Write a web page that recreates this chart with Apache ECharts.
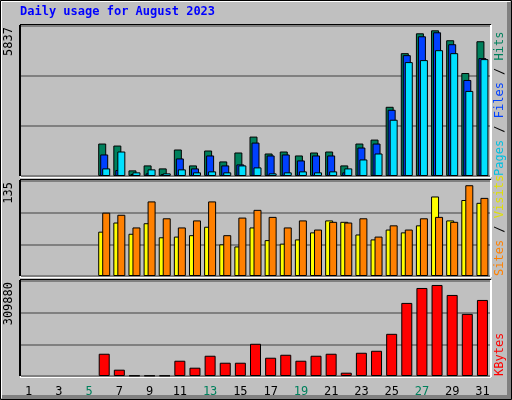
<!DOCTYPE html>
<html><head><meta charset="utf-8">
<script src="https://cdn.jsdelivr.net/npm/echarts@6/dist/echarts.min.js"></script>
<style>html,body{margin:0;padding:0;background:#c0c0c0}#c{width:512px;height:400px}</style>
</head><body><div id="c"></div>
<script>
const days = Array.from({length:31},(_,i)=>String(i+1));
const weekendDays = ['5','6','12','13','19','20','26','27'];
const hits  = [null,null,null,null,null,1263,1185,219,412,296,1031,412,992,567,915,1533,876,953,799,915,953,412,1263,1417,2693,4780,5553,5669,5283,4007,5244];
const files = [null,null,null,null,null,838,232,77,103,77,683,296,799,412,451,1301,799,838,606,799,799,142,1108,1263,2577,4703,5437,5592,5128,3737,4587];
const pages = [null,null,null,null,null,296,953,142,258,103,258,142,180,142,412,335,103,142,180,142,180,296,644,876,2190,4432,4510,4896,4780,3311,4548];
const visits = [null,null,null,null,null,63,76,60,75,55,56,58,70,45,42,69,51,46,52,62,79,77,59,52,66,62,72,113,79,108,104];
const sites  = [null,null,null,null,null,90,87,69,106,82,69,79,106,58,83,94,84,69,79,66,77,76,82,56,72,66,82,84,77,129,111];
const kbytes = [null,null,null,null,null,72600,20600,1500,1500,1500,49800,27100,66100,43300,43300,105100,59600,69300,49800,66100,72600,10800,75800,82300,137600,238400,287100,296900,264400,202600,248100];
const maxHits = 5837, maxVisits = 135, maxKB = 309880;
const maxLabels = ['5837','135','309880'];

const chart = echarts.init(document.getElementById('c'));
const L=21, R=22;
const grids=[{left:L,right:R,top:26,height:150},{left:L,right:R,top:181,height:95},{left:L,right:R,top:281,height:95}];
const mono='DejaVu Sans Mono';
function xa(i,show){return {type:'category',gridIndex:i,data:days,axisLine:{show:false},axisTick:{show:false},
  axisLabel:{show:show,fontFamily:mono,fontSize:12,margin:10,
    color:(v)=>weekendDays.includes(v)?'#00805c':'#000'}}}
function ya(i,max){return {type:'value',gridIndex:i,min:0,max:max,interval:max/3,axisLabel:{show:false},axisLine:{show:false},axisTick:{show:false},
  splitLine:{lineStyle:{color:'#808080',width:2}}}}
const bs={borderColor:'#000',borderWidth:1};
function bar(name,data,gi,color,w,gap){return {name,type:'bar',data,xAxisIndex:gi,yAxisIndex:gi,barWidth:w,barGap:gap,itemStyle:Object.assign({color},bs),silent:true,animation:false}}
function frame(top,h){return [
  {type:'line',shape:{x1:20,y1:top,x2:491,y2:top},style:{stroke:'#000',lineWidth:2}},
  {type:'line',shape:{x1:20,y1:top,x2:20,y2:top+h},style:{stroke:'#000',lineWidth:2}},
  {type:'line',shape:{x1:20,y1:top+h+1,x2:491,y2:top+h+1},style:{stroke:'#fff',lineWidth:2}},
  {type:'line',shape:{x1:491,y1:top,x2:491,y2:top+h+1},style:{stroke:'#fff',lineWidth:2}}]}
function vtext(x,y,parts){ // rotated text reading upward, starting at bottom y
  const els=[];let off=0;
  parts.forEach(p=>{els.push({type:'text',x:x,y:y-off,rotation:Math.PI/2,style:{text:p[0],fill:p[1],font:'12px '+mono,textVerticalAlign:'middle'}});off+=p[0].length*7.22;});
  return els;}
chart.setOption({
  animation:false,backgroundColor:'#c0c0c0',
  grid:grids,
  xAxis:[xa(0,false),xa(1,false),xa(2,true)],
  yAxis:[ya(0,maxHits),ya(1,maxVisits),ya(2,maxKB)],
  series:[
    bar('Hits',hits,0,'#00805c',8,'-75%'),
    bar('Files',files,0,'#0040ff',8,'-75%'),
    bar('Pages',pages,0,'#00e0ff',8,'-75%'),
    bar('Visits',visits,1,'#ffff00',8,'-50%'),
    bar('Sites',sites,1,'#ff8000',8,'-50%'),
    bar('KBytes',kbytes,2,'#ff0000',11,'0%')
  ],
  graphic:[
    {type:'rect',shape:{x:0.5,y:0.5,width:511,height:399},style:{fill:null,stroke:'#000',lineWidth:1}},
    {type:'line',shape:{x1:1,y1:1.5,x2:510,y2:1.5},style:{stroke:'#fff',lineWidth:1}},
    {type:'line',shape:{x1:1.5,y1:1,x2:1.5,y2:398},style:{stroke:'#fff',lineWidth:1}},
    {type:'line',shape:{x1:2,y1:397,x2:511,y2:397},style:{stroke:'#808080',lineWidth:4}},
    {type:'line',shape:{x1:509,y1:2,x2:509,y2:399},style:{stroke:'#808080',lineWidth:4}},
    {type:'text',x:20,y:6,style:{text:'Daily usage for August 2023',fill:'#0000ff',font:'bold 12px '+mono}},
    ...frame(25,151),...frame(180,96),...frame(280,96),
    {type:'text',x:9,y:27,rotation:Math.PI/2,style:{text:maxLabels[0],fill:'#000',font:'12px '+mono,textAlign:'right',textVerticalAlign:'middle'}},
    {type:'text',x:9,y:182,rotation:Math.PI/2,style:{text:maxLabels[1],fill:'#000',font:'12px '+mono,textAlign:'right',textVerticalAlign:'middle'}},
    {type:'text',x:9,y:282,rotation:Math.PI/2,style:{text:maxLabels[2],fill:'#000',font:'12px '+mono,textAlign:'right',textVerticalAlign:'middle'}},
    ...vtext(500,176,[['Pages','#00c0e0'],[' / ','#000'],['Files','#0040ff'],[' / ','#000'],['Hits','#00805c']]),
    ...vtext(500,276,[['Sites','#ff8000'],[' / ','#000'],['Visits','#e0e000']]),
    ...vtext(500,376,[['KBytes','#ff0000']])
  ]
});
</script></body></html>
